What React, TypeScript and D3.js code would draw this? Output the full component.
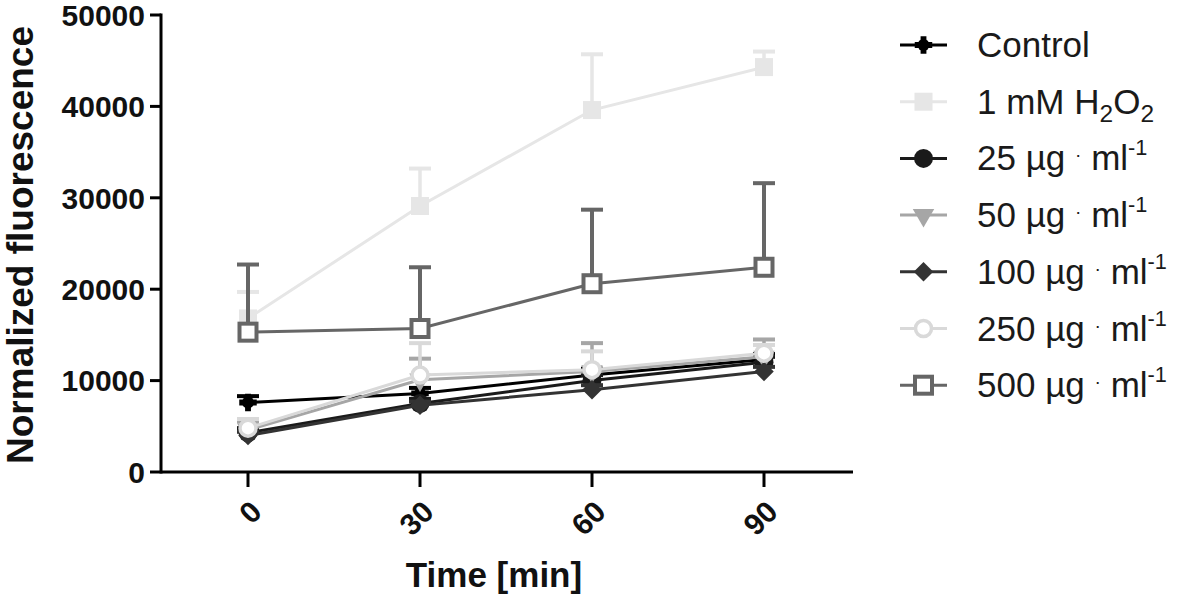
import React from "react";
import * as d3 from "d3";

// time points (min)
const timePoints = [0, 30, 60, 90];
const yTicks = [0, 10000, 20000, 30000, 40000, 50000];

// means
const controlMean = [7600, 8600, 10600, 12300];
const h2o2Mean = [16800, 29100, 39600, 44300];
const c25Mean = [4300, 7500, 10000, 12000];
const c50Mean = [4600, 10100, 11000, 12600];
const c100Mean = [4000, 7300, 9000, 11000];
const c250Mean = [4800, 10600, 11200, 13000];
const c500Mean = [15300, 15700, 20600, 22400];

// upper error (SD)
const controlErr = [700, 600, 700, 600];
const h2o2Err = [2900, 4100, 6100, 1700];
const c25Err = [500, 500, 600, 600];
const c50Err = [900, 2300, 3100, 1900];
const c100Err = [400, 400, 500, 500];
const c250Err = [1000, 3500, 2000, 900];
const c500Err = [7400, 6700, 8100, 9200];

type Marker = "control" | "square" | "circle" | "triDown" | "diamond" | "openCircle" | "openSquare";

interface Series {
  key: string;
  label: React.ReactNode;
  color: string;
  marker: Marker;
  mean: number[];
  err: number[];
}

const unit = (n: string) => (
  <>
    {n} µg <tspan fontSize="0.55em" dy="-9">·</tspan>
    <tspan dy="9"> ml</tspan>
    <tspan fontSize="0.62em" dy="-15">-1</tspan>
  </>
);

const series: Series[] = [
  { key: "control", label: "Control", color: "#000000", marker: "control", mean: controlMean, err: controlErr },
  {
    key: "h2o2",
    label: (
      <>
        1 mM H<tspan fontSize="0.7em" dy="8">2</tspan>
        <tspan dy="-8">O</tspan>
        <tspan fontSize="0.7em" dy="8">2</tspan>
      </>
    ),
    color: "#e6e6e6",
    marker: "square",
    mean: h2o2Mean,
    err: h2o2Err,
  },
  { key: "c25", label: unit("25"), color: "#1a1a1a", marker: "circle", mean: c25Mean, err: c25Err },
  { key: "c50", label: unit("50"), color: "#a6a6a6", marker: "triDown", mean: c50Mean, err: c50Err },
  { key: "c100", label: unit("100"), color: "#333333", marker: "diamond", mean: c100Mean, err: c100Err },
  { key: "c250", label: unit("250"), color: "#d9d9d9", marker: "openCircle", mean: c250Mean, err: c250Err },
  { key: "c500", label: unit("500"), color: "#666666", marker: "openSquare", mean: c500Mean, err: c500Err },
];

const FONT = "'Liberation Sans', Arial, sans-serif";

const x = d3.scaleLinear().domain([0, 90]).range([248, 764]);
const y = d3.scaleLinear().domain([0, 50000]).range([472, 15]);
const axisLeft = 161;
const axisRight = 853;

function MarkerShape({ type, color, cx, cy }: { type: Marker; color: string; cx: number; cy: number }) {
  const t = `translate(${cx},${cy})`;
  switch (type) {
    case "control":
      return (
        <g transform={t}>
          <circle r={6} fill={color} />
          <path d={d3.symbol(d3.symbolCross, 170)()!} fill={color} />
        </g>
      );
    case "square":
      return <rect x={cx - 9} y={cy - 9} width={18} height={18} fill={color} />;
    case "circle":
      return <circle cx={cx} cy={cy} r={9.5} fill={color} />;
    case "triDown":
      return <path transform={`${t} rotate(180)`} d={d3.symbol(d3.symbolTriangle, 200)()!} fill={color} />;
    case "diamond":
      return <path transform={`${t} rotate(45)`} d={d3.symbol(d3.symbolSquare, 190)()!} fill={color} />;
    case "openCircle":
      return <circle cx={cx} cy={cy} r={8} fill="#ffffff" stroke={color} strokeWidth={3.5} />;
    case "openSquare":
      return <rect x={cx - 8.5} y={cy - 8.5} width={17} height={17} fill="#ffffff" stroke={color} strokeWidth={4} />;
  }
}

export default function App() {
  const line = d3
    .line<number>()
    .x((_, i) => x(timePoints[i]))
    .y((d) => y(d));

  const legendX = 900;
  const legendY = (i: number) => 45 + i * 56.7;

  return (
    <svg width={1181} height={598} style={{ position: "absolute", left: 0, top: 0, background: "#fff" }} fontFamily={FONT}>
      <rect width={1181} height={598} fill="#ffffff" />
      {/* series */}
      {series.map((s) => (
        <g key={s.key}>
          {s.mean.map((m, i) => {
            const cx = x(timePoints[i]);
            const top = y(m + s.err[i]);
            return (
              <g key={i}>
                <line x1={cx} x2={cx} y1={y(m)} y2={top} stroke={s.color} strokeWidth={s.key === "c500" ? 4 : 3.5} />
                <line x1={cx - 11} x2={cx + 11} y1={top} y2={top} stroke={s.color} strokeWidth={4} />
              </g>
            );
          })}
          <path d={line(s.mean)!} fill="none" stroke={s.color} strokeWidth={3} />
          {s.mean.map((m, i) => (
            <MarkerShape key={i} type={s.marker} color={s.color} cx={x(timePoints[i])} cy={y(m)} />
          ))}
        </g>
      ))}

      {/* y axis */}
      <line x1={axisLeft} x2={axisLeft} y1={y(50000) - 1.5} y2={y(0) + 1.5} stroke="#000" strokeWidth={3} />
      {yTicks.map((t) => (
        <g key={t}>
          <line x1={axisLeft - 11} x2={axisLeft} y1={y(t)} y2={y(t)} stroke="#000" strokeWidth={3} />
          <text x={axisLeft - 16} y={y(t)} dy="0.36em" textAnchor="end" fontSize={30} fontWeight="bold" fill="#111">
            {t}
          </text>
        </g>
      ))}

      {/* x axis */}
      <line x1={axisLeft} x2={axisRight} y1={y(0)} y2={y(0)} stroke="#000" strokeWidth={3} />
      {timePoints.map((t) => (
        <g key={t}>
          <line x1={x(t)} x2={x(t)} y1={y(0)} y2={y(0) + 15} stroke="#000" strokeWidth={3} />
          <text
            transform={`translate(${x(t) + 8},${506}) rotate(-45)`}
            dy="0.36em"
            textAnchor="end"
            fontSize={30}
            fontWeight="bold"
            fill="#111"
          >
            {t}
          </text>
        </g>
      ))}

      <text x={494} y={587} textAnchor="middle" fontSize={35} fontWeight="bold" fill="#111">
        Time [min]
      </text>
      <text transform="translate(33,245) rotate(-90)" textAnchor="middle" fontSize={37} fontWeight="bold" fill="#111">
        Normalized fluorescence
      </text>

      {/* legend */}
      {series.map((s, i) => {
        const cy = legendY(i);
        return (
          <g key={s.key}>
            <line x1={legendX} x2={legendX + 47} y1={cy} y2={cy} stroke={s.color} strokeWidth={3} />
            <MarkerShape type={s.marker} color={s.color} cx={legendX + 23.5} cy={cy} />
            <text x={977} y={cy + 12} fontSize={35} fill="#1a1a1a">
              {s.label}
            </text>
          </g>
        );
      })}
    </svg>
  );
}
